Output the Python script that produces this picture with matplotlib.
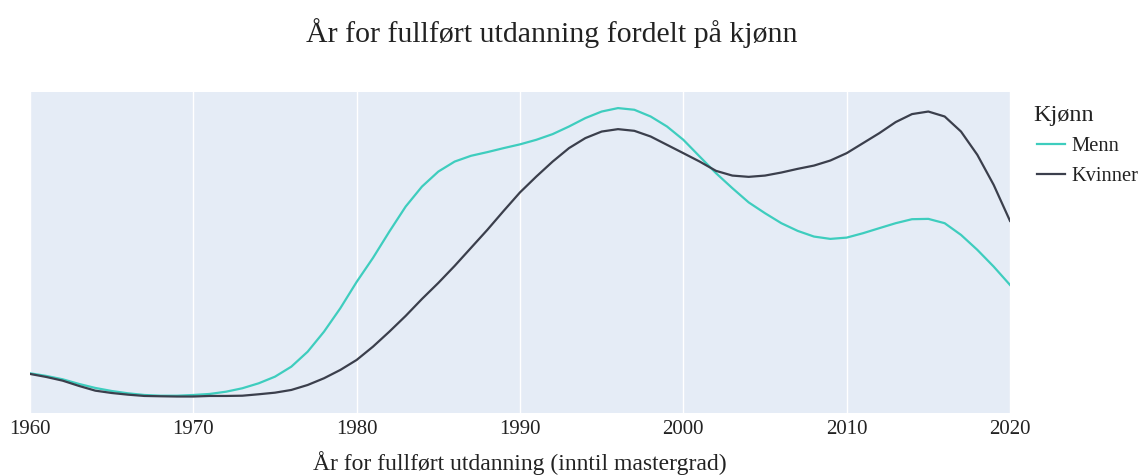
import matplotlib.pyplot as plt
from matplotlib.lines import Line2D

# Data (relativ andel per år, lest av figuren), ett punkt per år 1960-2020
aar = list(range(1960, 2021))
menn = [0.496, 0.463, 0.421, 0.363, 0.313, 0.275, 0.246, 0.225, 0.216, 0.216,
        0.225, 0.238, 0.266, 0.309, 0.371, 0.454, 0.579, 0.766, 1.016, 1.309,
        1.638, 1.938, 2.266, 2.579, 2.829, 3.016, 3.141, 3.213, 3.259, 3.309,
        3.356, 3.413, 3.484, 3.579, 3.684, 3.766, 3.809, 3.788, 3.704, 3.579,
        3.413, 3.204, 2.996, 2.809, 2.631, 2.496, 2.371, 2.275, 2.204, 2.175,
        2.191, 2.246, 2.309, 2.371, 2.421, 2.425, 2.371, 2.225, 2.038, 1.829,
        1.600]
kvinner = [0.488, 0.450, 0.404, 0.338, 0.279, 0.250, 0.229, 0.213, 0.209, 0.206,
           0.206, 0.213, 0.213, 0.216, 0.234, 0.254, 0.288, 0.350, 0.434, 0.538,
           0.663, 0.829, 1.016, 1.213, 1.425, 1.625, 1.838, 2.063, 2.288, 2.525,
           2.756, 2.954, 3.141, 3.309, 3.434, 3.516, 3.546, 3.525, 3.454, 3.350,
           3.246, 3.141, 3.025, 2.966, 2.950, 2.966, 3.004, 3.050, 3.091, 3.154,
           3.246, 3.371, 3.496, 3.634, 3.734, 3.766, 3.704, 3.516, 3.225, 2.850,
           2.400]
xticks = [1960, 1970, 1980, 1990, 2000, 2010, 2020]

farge_menn = '#3ECDBE'
farge_kvinner = '#3B3F4C'
tekst = '#222222'

plt.rcParams['font.family'] = ['Liberation Serif', 'DejaVu Serif']

fig = plt.figure(figsize=(11.39, 4.76), dpi=100)
ax = fig.add_axes([30/1139, 63/476, 980/1139, 321/476])
ax.set_facecolor('#E5ECF6')

ax.plot(aar, menn, color=farge_menn, lw=1.6)
ax.plot(aar, kvinner, color=farge_kvinner, lw=1.6)

ax.set_xlim(1960, 2020)
ax.set_ylim(0, 4.01)
ax.set_xticks(xticks)
ax.set_xticklabels([str(t) for t in xticks], fontsize=15, color=tekst)
ax.set_yticks([])
ax.tick_params(axis='x', length=0, pad=5)
ax.grid(axis='x', color='white', lw=1)
ax.set_axisbelow(True)
for s in ax.spines.values():
    s.set_visible(False)

fig.text(520/1139, 1 - 463/476, 'År for fullført utdanning (inntil mastergrad)',
         ha='center', va='center', fontsize=17, color=tekst)
fig.text(552/1139, 1 - 33/476, 'År for fullført utdanning fordelt på kjønn',
         ha='center', va='center', fontsize=21.5, color=tekst)

# Legende
fig.text(1033/1139, 1 - 116/476, 'Kjønn', ha='left', va='center',
         fontsize=17.5, color=tekst)
handles = [Line2D([], [], color=farge_menn, lw=1.6),
           Line2D([], [], color=farge_kvinner, lw=1.6)]
leg = fig.legend(handles, ['Menn', 'Kvinner'], loc='upper left',
                 bbox_to_anchor=(1037/1139, 1 - 137/476), frameon=False,
                 fontsize=14.8, handlelength=1.36, handletextpad=0.3,
                 labelspacing=0.52, borderaxespad=0, borderpad=0)
for t in leg.get_texts():
    t.set_color(tekst)

plt.savefig('out.png', dpi=100)
